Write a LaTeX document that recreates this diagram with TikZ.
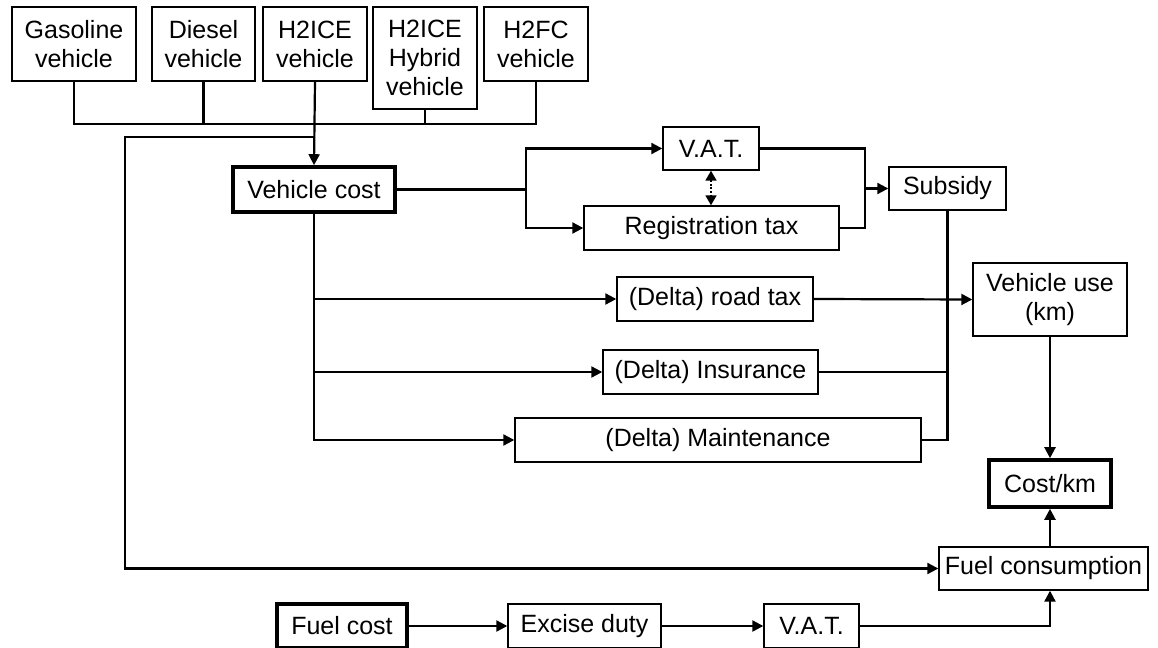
\documentclass[tikz,border=0pt]{standalone}
\usepackage{fontspec}
\setmainfont{Liberation Sans}
\usetikzlibrary{arrows.meta}

\tikzset{
  box/.style={draw, line width=0.7pt, align=center, inner sep=0pt, font=\fontsize{12.5}{14.5}\selectfont},
  boldbox/.style={box, line width=1.8pt},
  arr/.style={-{Triangle[length=5.5pt,width=5.5pt]}},
  dotarr/.style={{Triangle[length=5pt,width=5.5pt]}-{Triangle[length=5pt,width=5.5pt]}, line width=0.9pt, dash pattern=on 0.9pt off 0.9pt},
}

\begin{document}
\begin{tikzpicture}[x=0.5pt, y=-0.5pt, line width=1.1pt]
\useasboundingbox (0,0) rectangle (1158,648);
\node[box, minimum width=62pt, minimum height=37pt] (gas) at (74,44) {Gasoline\\vehicle};
\node[box, minimum width=51.5pt, minimum height=37pt] (diesel) at (203.5,44) {Diesel\\vehicle};
\node[box, minimum width=52pt, minimum height=37pt] (h2ice) at (315,44) {H2ICE\\vehicle};
\node[box, minimum width=52pt, minimum height=51pt] (hybrid) at (425,58) {H2ICE\\Hybrid\\vehicle};
\node[box, minimum width=52pt, minimum height=37pt] (h2fc) at (536,44) {H2FC\\vehicle};
\node[boldbox, minimum width=81pt, minimum height=22.5pt] (vcost) at (314,189.5) {Vehicle cost};
\node[box, minimum width=48pt, minimum height=21.5pt] (vat) at (711,148.5) {V.A.T.};
\node[box, minimum width=127.5pt, minimum height=22pt] (regtax) at (711.5,228) {Registration tax};
\node[box, minimum width=58.5pt, minimum height=21.5pt] (subsidy) at (947.5,188.5) {Subsidy};
\node[box, minimum width=98pt, minimum height=22pt] (roadtax) at (715,299) {(Delta) road tax};
\node[box, minimum width=107.5pt, minimum height=22pt] (insur) at (710.5,372) {(Delta) Insurance};
\node[box, minimum width=203pt, minimum height=22pt] (maint) at (718,440) {(Delta) Maintenance};
\node[box, minimum width=77pt, minimum height=36.5pt] (vuse) at (1050,299.5) {Vehicle use\\(km)};
\node[boldbox, minimum width=61pt, minimum height=23.5pt] (costkm) at (1050,483.5) {Cost/km};
\node[box, minimum width=104.5pt, minimum height=21.5pt] (fuelcons) at (1043.5,568.5) {Fuel consumption};
\node[boldbox, minimum width=65pt, minimum height=22pt] (fuelcost) at (342,626) {Fuel cost};
\node[box, minimum width=76.5pt, minimum height=22pt] (excise) at (584.5,626) {Excise duty};
\node[box, minimum width=47.5pt, minimum height=22pt] (vat2) at (811.5,626) {V.A.T.};
\coordinate (bus) at (315,124);
\coordinate (loop) at (315,137);
\coordinate (loopend) at (125,137);
\coordinate (split) at (526,189.5);
\coordinate (join) at (865,188.5);
\draw (gas.south) |- (bus);
\draw (diesel.south) |- (bus);
\draw (hybrid.south) |- (bus);
\draw (h2fc.south) |- (bus);
\draw[arr] (h2ice.south) -- (vcost.north);
\draw[arr] (loop) -- (loopend) |- (fuelcons.west);
\draw (vcost.east) -- (split);
\draw[arr] (split) |- (vat.west);
\draw[arr] (split) |- (regtax.west);
\draw[dotarr] (vat.south) -- (vat.south |- regtax.north);
\draw (vat.east) -| (join);
\draw (regtax.east) -| (join);
\draw[arr] (join) -- (subsidy.west);
\draw[arr] (vcost.south) |- (roadtax.west);
\draw[arr] (vcost.south) |- (insur.west);
\draw[arr] (vcost.south) |- (maint.west);
\draw (subsidy.south) |- (maint.east);
\draw (insur.east) -- (insur.east -| subsidy.south);
\draw[arr] (roadtax.east) -- (vuse.west);
\draw[arr] (vuse.south) -- (costkm.north);
\draw[arr] (fuelcons.north -| costkm.south) -- (costkm.south);
\draw[arr] (fuelcost.east) -- (excise.west);
\draw[arr] (excise.east) -- (vat2.west);
\draw[arr] (vat2.east) -| (fuelcons.south -| costkm.south);
\end{tikzpicture}
\end{document}
